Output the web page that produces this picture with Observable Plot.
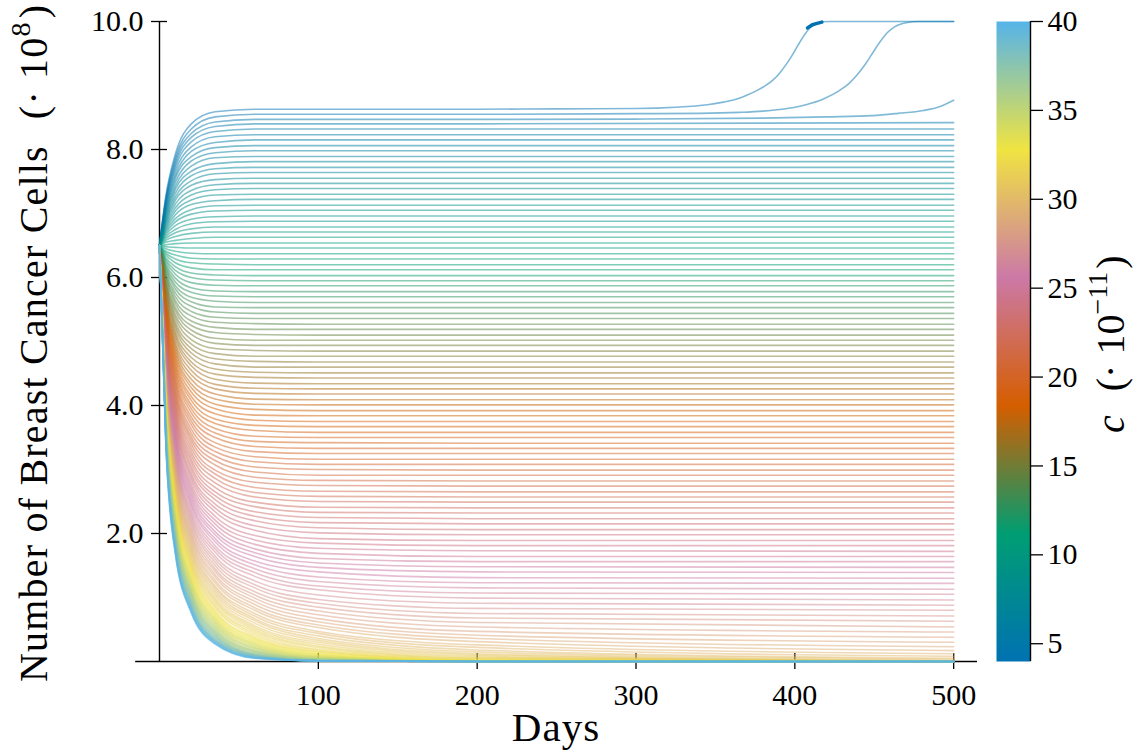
<!DOCTYPE html>
<html><head><meta charset="utf-8">
<script src="https://cdn.jsdelivr.net/npm/d3@7"></script>
<script src="https://cdn.jsdelivr.net/npm/@observablehq/plot@0.6"></script>
<style>
body{margin:0;background:#fff;}
#wrap{position:relative;width:1145px;height:753px;font-family:"Liberation Serif",serif;color:#000;}
#wrap svg{position:absolute;top:0;background:transparent;}
</style></head><body><div id="wrap"></div>
<script>
// ---- data ----
const sampleDays = [0, 4, 10, 20, 35, 60, 100, 200, 500];
const cValues = [
 4, 4.25, 4.5, 4.75, 5, 5.25, 5.5, 5.75, 6, 6.25, 6.5, 6.75, 7, 7.25, 7.5, 7.75,
 8, 8.25, 8.5, 8.75, 9, 9.25, 9.5, 9.75, 10, 10.25, 10.5, 10.75, 11, 11.25, 11.5, 11.75,
 12, 12.25, 12.5, 12.75, 13, 13.25, 13.5, 13.75, 14, 14.25, 14.5, 14.75, 15, 15.25, 15.5, 15.75,
 16, 16.25, 16.5, 16.75, 17, 17.25, 17.5, 17.75, 18, 18.25, 18.5, 18.75, 19, 19.25, 19.5, 19.75,
 20, 20.25, 20.5, 20.75, 21, 21.25, 21.5, 21.75, 22, 22.25, 22.5, 22.75, 23, 23.25, 23.5, 23.75,
 24, 24.25, 24.5, 24.75, 25, 25.25, 25.5, 25.75, 26, 26.25, 26.5, 26.75, 27, 27.25, 27.5, 27.75,
 28, 28.25, 28.5, 28.75, 29, 29.25, 29.5, 29.75, 30, 30.25, 30.5, 30.75, 31, 31.25, 31.5, 31.75,
 32, 32.25, 32.5, 32.75, 33, 33.25, 33.5, 33.75, 34, 34.25, 34.5, 34.75, 35, 35.25, 35.5, 35.75,
 36, 36.25, 36.5, 36.75, 37, 37.25, 37.5, 37.75, 38, 38.25, 38.5, 38.75, 39, 39.25, 39.5, 39.75,
 40
];
// first three c values (4, 4.25, 4.5) have their own late-rising curves
const lateRiseDays = [
 [0, 4, 10, 20, 35, 60, 100, 200, 250, 300, 325, 345, 355, 365, 370, 376, 381, 386, 390, 394, 398, 402, 406, 410, 414, 418, 422, 500],
 [0, 4, 10, 20, 35, 60, 100, 200, 300, 340, 365, 380, 395, 407, 418, 428, 434, 439, 444, 448, 453, 458, 463, 470, 478, 500],
 [0, 4, 10, 20, 35, 60, 100, 200, 300, 380, 420, 449, 465, 481, 490, 500]
];
const lateRiseCounts = [
 [6.5, 7.27, 7.93, 8.40, 8.59, 8.63, 8.63, 8.63, 8.635, 8.64, 8.66, 8.70, 8.74, 8.80, 8.85, 8.92, 8.99, 9.08, 9.18, 9.31, 9.46, 9.63, 9.79, 9.91, 9.97, 9.995, 10.0, 10.0],
 [6.5, 7.24, 7.87, 8.32, 8.51, 8.55, 8.55, 8.55, 8.56, 8.565, 8.58, 8.60, 8.64, 8.70, 8.79, 8.92, 9.03, 9.16, 9.32, 9.47, 9.66, 9.82, 9.92, 9.98, 10.0, 10.0],
 [6.5, 7.21, 7.82, 8.25, 8.43, 8.47, 8.47, 8.47, 8.475, 8.49, 8.51, 8.53, 8.565, 8.61, 8.66, 8.77]
];
const saturationDays = [408, 411, 414, 417];
const saturationCounts = [9.90, 9.95, 9.97, 9.99];
// rows for c = 4.75 ... 40, values at sampleDays
const cellCounts = [
 [6.5,7.18,7.77,8.19,8.36,8.40,8.40,8.40,8.42],
 [6.5,7.15,7.72,8.12,8.28,8.32,8.32,8.32,8.32],
 [6.5,7.12,7.66,8.04,8.20,8.23,8.23,8.23,8.23],
 [6.5,7.09,7.60,7.97,8.11,8.15,8.15,8.15,8.15],
 [6.5,7.06,7.55,7.89,8.03,8.06,8.06,8.06,8.06],
 [6.5,7.03,7.49,7.82,7.95,7.98,7.98,7.98,7.98],
 [6.5,7.00,7.43,7.74,7.87,7.89,7.89,7.89,7.89],
 [6.5,6.97,7.38,7.66,7.78,7.81,7.81,7.81,7.81],
 [6.5,6.94,7.32,7.59,7.70,7.72,7.72,7.72,7.72],
 [6.5,6.91,7.26,7.51,7.62,7.64,7.64,7.64,7.64],
 [6.5,6.88,7.21,7.44,7.53,7.55,7.55,7.55,7.55],
 [6.5,6.85,7.15,7.36,7.45,7.47,7.47,7.47,7.47],
 [6.5,6.82,7.09,7.29,7.37,7.39,7.39,7.39,7.39],
 [6.5,6.79,7.04,7.21,7.29,7.30,7.30,7.30,7.30],
 [6.5,6.76,6.98,7.14,7.20,7.22,7.22,7.22,7.22],
 [6.5,6.73,6.92,7.06,7.12,7.13,7.13,7.13,7.13],
 [6.5,6.70,6.87,6.99,7.04,7.05,7.05,7.05,7.05],
 [6.5,6.67,6.81,6.91,6.95,6.96,6.96,6.96,6.96],
 [6.5,6.64,6.75,6.84,6.87,6.88,6.88,6.88,6.88],
 [6.5,6.61,6.70,6.76,6.79,6.79,6.79,6.79,6.79],
 [6.5,6.58,6.64,6.69,6.71,6.71,6.71,6.71,6.71],
 [6.5,6.55,6.58,6.61,6.63,6.63,6.63,6.63,6.63],
 [6.5,6.51,6.53,6.54,6.54,6.54,6.54,6.54,6.54],
 [6.5,6.48,6.47,6.46,6.46,6.46,6.46,6.46,6.46],
 [6.5,6.45,6.41,6.38,6.37,6.37,6.37,6.37,6.37],
 [6.5,6.41,6.35,6.30,6.29,6.29,6.29,6.29,6.29],
 [6.5,6.38,6.29,6.23,6.21,6.20,6.20,6.20,6.20],
 [6.5,6.35,6.23,6.15,6.12,6.12,6.12,6.12,6.12],
 [6.5,6.31,6.17,6.07,6.04,6.03,6.03,6.03,6.03],
 [6.5,6.28,6.11,6.00,5.96,5.95,5.95,5.95,5.95],
 [6.5,6.25,6.05,5.92,5.88,5.87,5.87,5.87,5.87],
 [6.5,6.21,5.99,5.84,5.79,5.78,5.78,5.78,5.78],
 [6.5,6.18,5.93,5.77,5.71,5.70,5.70,5.70,5.70],
 [6.5,6.15,5.87,5.69,5.63,5.61,5.61,5.61,5.61],
 [6.5,6.12,5.82,5.62,5.54,5.53,5.53,5.53,5.53],
 [6.5,6.08,5.76,5.55,5.46,5.44,5.44,5.44,5.44],
 [6.5,6.05,5.70,5.47,5.38,5.36,5.36,5.36,5.36],
 [6.5,6.02,5.64,5.40,5.30,5.28,5.27,5.27,5.27],
 [6.5,5.99,5.59,5.32,5.22,5.19,5.19,5.19,5.19],
 [6.5,5.95,5.53,5.25,5.14,5.11,5.10,5.10,5.10],
 [6.5,5.92,5.48,5.18,5.05,5.02,5.02,5.02,5.02],
 [6.5,5.89,5.42,5.11,4.97,4.94,4.94,4.94,4.94],
 [6.5,5.86,5.37,5.03,4.89,4.86,4.85,4.85,4.85],
 [6.5,5.83,5.31,4.96,4.81,4.77,4.77,4.77,4.77],
 [6.5,5.80,5.26,4.89,4.73,4.69,4.68,4.68,4.68],
 [6.5,5.77,5.21,4.82,4.65,4.60,4.60,4.60,4.60],
 [6.5,5.74,5.15,4.75,4.57,4.52,4.51,4.51,4.51],
 [6.5,5.70,5.10,4.68,4.49,4.44,4.43,4.43,4.43],
 [6.5,5.67,5.05,4.62,4.41,4.35,4.34,4.34,4.34],
 [6.5,5.64,4.99,4.55,4.33,4.27,4.26,4.26,4.26],
 [6.5,5.61,4.94,4.48,4.26,4.19,4.18,4.18,4.18],
 [6.5,5.58,4.89,4.41,4.18,4.10,4.09,4.09,4.09],
 [6.5,5.55,4.84,4.34,4.10,4.02,4.01,4.01,4.01],
 [6.5,5.52,4.79,4.28,4.02,3.94,3.92,3.92,3.92],
 [6.5,5.49,4.74,4.21,3.95,3.85,3.84,3.84,3.84],
 [6.5,5.46,4.69,4.14,3.87,3.77,3.75,3.75,3.75],
 [6.5,5.43,4.64,4.08,3.79,3.69,3.67,3.67,3.67],
 [6.5,5.40,4.59,4.01,3.72,3.61,3.58,3.58,3.58],
 [6.5,5.37,4.54,3.95,3.64,3.52,3.50,3.50,3.50],
 [6.5,5.34,4.49,3.89,3.57,3.44,3.42,3.41,3.41],
 [6.5,5.32,4.44,3.82,3.50,3.36,3.33,3.33,3.33],
 [6.5,5.29,4.39,3.76,3.42,3.28,3.25,3.25,3.25],
 [6.5,5.26,4.35,3.70,3.35,3.20,3.16,3.16,3.16],
 [6.5,5.23,4.30,3.63,3.28,3.12,3.08,3.08,3.08],
 [6.5,5.20,4.25,3.57,3.21,3.04,3.00,2.99,2.99],
 [6.5,5.17,4.21,3.51,3.14,2.96,2.91,2.91,2.91],
 [6.5,5.14,4.16,3.46,3.07,2.88,2.83,2.82,2.82],
 [6.5,5.12,4.12,3.40,2.99,2.80,2.75,2.74,2.74],
 [6.5,5.09,4.07,3.34,2.93,2.72,2.66,2.65,2.65],
 [6.5,5.06,4.03,3.28,2.86,2.64,2.58,2.57,2.57],
 [6.5,5.03,3.98,3.22,2.79,2.57,2.50,2.49,2.49],
 [6.5,5.01,3.94,3.16,2.72,2.49,2.41,2.40,2.40],
 [6.5,4.98,3.89,3.11,2.65,2.42,2.33,2.32,2.32],
 [6.5,4.95,3.85,3.05,2.59,2.34,2.25,2.23,2.23],
 [6.5,4.93,3.81,3.00,2.53,2.27,2.17,2.15,2.15],
 [6.5,4.90,3.76,2.94,2.46,2.20,2.09,2.06,2.06],
 [6.5,4.87,3.72,2.89,2.40,2.12,2.01,1.98,1.98],
 [6.5,4.85,3.68,2.84,2.34,2.05,1.92,1.89,1.89],
 [6.5,4.82,3.63,2.78,2.27,1.97,1.85,1.81,1.81],
 [6.5,4.79,3.59,2.73,2.21,1.90,1.77,1.73,1.72],
 [6.5,4.76,3.55,2.68,2.15,1.83,1.69,1.64,1.64],
 [6.5,4.74,3.51,2.63,2.09,1.76,1.61,1.56,1.56],
 [6.5,4.71,3.47,2.58,2.03,1.70,1.54,1.48,1.47],
 [6.5,4.69,3.43,2.53,1.98,1.64,1.47,1.40,1.39],
 [6.5,4.66,3.39,2.48,1.92,1.57,1.40,1.31,1.30],
 [6.5,4.64,3.35,2.44,1.87,1.51,1.32,1.23,1.22],
 [6.5,4.61,3.31,2.39,1.81,1.45,1.25,1.15,1.13],
 [6.5,4.59,3.27,2.34,1.76,1.39,1.18,1.07,1.05],
 [6.5,4.56,3.23,2.29,1.71,1.33,1.12,0.99,0.96],
 [6.5,4.53,3.20,2.25,1.65,1.26,1.04,0.91,0.88],
 [6.5,4.51,3.16,2.20,1.60,1.20,0.97,0.83,0.80],
 [6.5,4.48,3.13,2.16,1.55,1.15,0.91,0.75,0.71],
 [6.5,4.46,3.09,2.11,1.50,1.09,0.85,0.68,0.63],
 [6.5,4.43,3.05,2.07,1.45,1.04,0.79,0.61,0.54],
 [6.5,4.41,3.02,2.02,1.41,0.99,0.73,0.54,0.46],
 [6.5,4.38,2.98,1.98,1.36,0.94,0.67,0.47,0.38],
 [6.5,4.36,2.94,1.94,1.32,0.89,0.62,0.41,0.30],
 [6.5,4.34,2.91,1.90,1.27,0.84,0.57,0.36,0.23],
 [6.5,4.31,2.88,1.86,1.23,0.80,0.53,0.31,0.17],
 [6.5,4.28,2.84,1.82,1.18,0.75,0.47,0.26,0.12],
 [6.5,4.27,2.81,1.78,1.15,0.71,0.44,0.22,0.08],
 [6.5,4.24,2.77,1.74,1.11,0.67,0.40,0.18,0.05],
 [6.5,4.21,2.74,1.71,1.07,0.64,0.36,0.15,0.03],
 [6.5,4.19,2.71,1.67,1.03,0.60,0.33,0.12,0.01],
 [6.5,4.17,2.67,1.63,0.99,0.56,0.30,0.10,0.01],
 [6.5,4.15,2.64,1.60,0.96,0.53,0.27,0.08,0],
 [6.5,4.12,2.61,1.56,0.93,0.50,0.24,0.06,0],
 [6.5,4.10,2.58,1.53,0.89,0.47,0.22,0.05,0],
 [6.5,4.08,2.54,1.50,0.86,0.44,0.19,0.04,0],
 [6.5,4.05,2.51,1.46,0.83,0.41,0.17,0.03,0],
 [6.5,4.03,2.48,1.43,0.79,0.38,0.15,0.02,0],
 [6.5,4.01,2.45,1.40,0.77,0.36,0.14,0.02,0],
 [6.5,3.98,2.42,1.37,0.74,0.34,0.12,0.01,0],
 [6.5,3.96,2.39,1.34,0.72,0.32,0.11,0.01,0],
 [6.5,3.94,2.36,1.31,0.69,0.30,0.10,0.01,0],
 [6.5,3.92,2.33,1.28,0.67,0.28,0.09,0.01,0],
 [6.5,3.90,2.30,1.26,0.65,0.27,0.08,0,0],
 [6.5,3.87,2.27,1.23,0.63,0.25,0.07,0,0],
 [6.5,3.85,2.25,1.21,0.61,0.24,0.07,0,0],
 [6.5,3.83,2.22,1.18,0.59,0.22,0.06,0,0],
 [6.5,3.81,2.19,1.16,0.57,0.21,0.05,0,0],
 [6.5,3.79,2.16,1.13,0.55,0.20,0.05,0,0],
 [6.5,3.76,2.13,1.11,0.53,0.18,0.04,0,0],
 [6.5,3.74,2.11,1.09,0.51,0.17,0.04,0,0],
 [6.5,3.72,2.08,1.07,0.49,0.16,0.04,0,0],
 [6.5,3.70,2.05,1.05,0.47,0.15,0.03,0,0],
 [6.5,3.68,2.03,1.03,0.46,0.14,0.03,0,0],
 [6.5,3.66,2.00,1.01,0.44,0.13,0.03,0,0],
 [6.5,3.64,1.97,0.99,0.43,0.12,0.02,0,0],
 [6.5,3.62,1.95,0.97,0.41,0.11,0.02,0,0],
 [6.5,3.60,1.92,0.95,0.40,0.11,0.02,0,0],
 [6.5,3.58,1.90,0.93,0.38,0.10,0.02,0,0],
 [6.5,3.56,1.87,0.91,0.37,0.09,0.01,0,0],
 [6.5,3.54,1.85,0.89,0.35,0.09,0.01,0,0],
 [6.5,3.52,1.83,0.87,0.34,0.08,0.01,0,0],
 [6.5,3.50,1.80,0.86,0.33,0.08,0.01,0,0],
 [6.5,3.48,1.78,0.84,0.32,0.07,0.01,0,0],
 [6.5,3.46,1.76,0.82,0.31,0.07,0.01,0,0],
 [6.5,3.44,1.73,0.80,0.30,0.06,0.01,0,0],
 [6.5,3.42,1.71,0.79,0.29,0.06,0.01,0,0],
 [6.5,3.40,1.69,0.77,0.28,0.05,0.01,0,0],
 [6.5,3.38,1.67,0.76,0.27,0.05,0.01,0,0]
];
const xTicks = [100, 200, 300, 400, 500];
const yTicks = [2, 4, 6, 8, 10];
const colorbarTicks = [5, 10, 15, 20, 25, 30, 35, 40];
const colorStops = [4, 11.2, 18.4, 25.6, 32.8, 40];
const colorRange = ["#0072B2", "#009E73", "#D55E00", "#CC79A7", "#F0E442", "#56B4E9"];

// ---- build table ----
const rows = [];
for (let j = 0; j < lateRiseDays.length; j++) {
  lateRiseDays[j].forEach((d, n) => rows.push({c: cValues[j], day: d, count: lateRiseCounts[j][n]}));
}
cellCounts.forEach((vals, j) => {
  const c = cValues[j + lateRiseDays.length];
  sampleDays.forEach((d, n) => rows.push({c, day: d, count: vals[n]}));
});
const satRows = saturationDays.map((d, n) => ({c: cValues[0], day: d, count: saturationCounts[n]}));

const FONT = "Liberation Serif";
const colorScale = {type: "linear", domain: colorStops, range: colorRange, interpolate: "rgb"};

const main = Plot.plot({
  width: 1145, height: 753,
  marginLeft: 159, marginRight: 168, marginTop: 21, marginBottom: 92,
  x: {domain: [0, 515]},
  y: {domain: [0, 10]},
  color: colorScale,
  style: {fontFamily: FONT, color: "black", background: "transparent"},
  marks: [
    Plot.ruleY([0], {x1: -15, x2: 515, stroke: "black", strokeWidth: 1.4}),
    Plot.ruleX([0], {y1: 0, y2: 10, stroke: "black", strokeWidth: 1.4}),
    Plot.axisX(xTicks, {tickSize: 16, dy: -8, tickFormat: () => "", label: null, strokeWidth: 1.3}),
    Plot.axisX(xTicks, {tickSize: 0, tickPadding: 22, fontSize: 30, fontFamily: FONT, label: null, tickFormat: d => String(d)}),
    Plot.axisY(yTicks, {tickSize: 16, dx: 8, tickFormat: () => "", label: null, strokeWidth: 1.3}),
    Plot.axisY(yTicks, {tickSize: 0, tickPadding: 16, fontSize: 30, fontFamily: FONT, label: null, tickFormat: d => d.toFixed(1)}),
    Plot.line(rows, {x: "day", y: "count", z: "c", stroke: "c", strokeWidth: 1.6, strokeOpacity: 0.5, curve: "monotone-x"}),
    Plot.line(satRows, {x: "day", y: "count", z: "c", stroke: "c", strokeWidth: 3.5, strokeOpacity: 1})
  ]
});

const bar = Plot.plot({
  width: 149, height: 753,
  marginLeft: 0, marginRight: 115, marginTop: 21, marginBottom: 92,
  x: {domain: [0, 1], axis: null},
  y: {domain: [4, 40]},
  color: colorScale,
  style: {fontFamily: FONT, color: "black", background: "transparent"},
  marks: [
    Plot.raster({x1: 0, x2: 1, y1: 4, y2: 40, width: 1, height: 640, fill: (x, y) => y}),
    Plot.ruleX([1], {y1: 4, y2: 40, stroke: "black", strokeWidth: 1.4}),
    Plot.axisY(colorbarTicks, {anchor: "right", tickSize: 12, tickPadding: 5, fontSize: 30, fontFamily: FONT, label: null, strokeWidth: 1.3})
  ]
});

const wrap = document.getElementById("wrap");
main.style.left = "0px";
bar.style.left = "996px";
wrap.appendChild(main);
wrap.appendChild(bar);

// ---- axis titles ----
const sm = d3.select(main);
const yt = sm.append("text")
  .attr("transform", "translate(47,682) rotate(-90)").attr("text-anchor", "start")
  .attr("font-family", FONT).attr("font-size", 40).attr("letter-spacing", 1.2).attr("fill", "black");
yt.append("tspan").text("Number of Breast Cancer Cells");
yt.append("tspan").attr("dx", 26).text("(\u00B7 10");
yt.append("tspan").attr("dy", -17).attr("font-size", 28).text("8");
yt.append("tspan").attr("dy", 17).attr("dx", 3).text(")");

sm.append("text")
  .attr("x", 556).attr("y", 741).attr("text-anchor", "middle")
  .attr("font-family", FONT).attr("font-size", 41).attr("letter-spacing", 1).attr("fill", "black")
  .text("Days");

const sb = d3.select(bar);
const ct = sb.append("text")
  .attr("transform", "translate(128,433) rotate(-90)").attr("text-anchor", "start")
  .attr("font-family", FONT).attr("font-size", 40).attr("fill", "black");
ct.append("tspan").attr("font-style", "italic").text("c");
ct.append("tspan").attr("dx", 24).text("(\u00B7 10");
ct.append("tspan").attr("dy", -17).attr("font-size", 28).text("\u221211");
ct.append("tspan").attr("dy", 17).attr("dx", 3).text(")");
</script></body></html>
